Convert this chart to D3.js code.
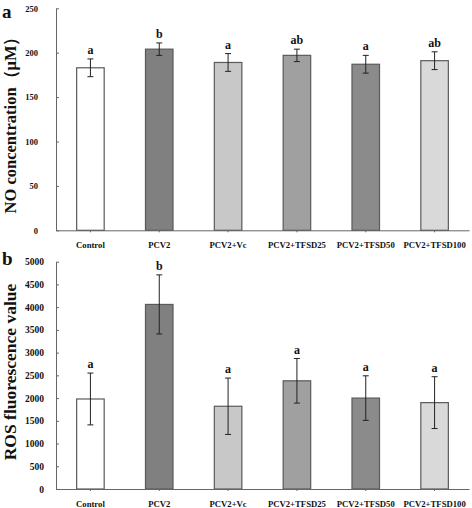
<!DOCTYPE html>
<html><head><meta charset="utf-8">
<script src="https://d3js.org/d3.v7.min.js"></script>
<style>body{margin:0;background:#fff}svg{display:block}text{font-family:"Liberation Serif","Times New Roman",serif;font-weight:bold}</style>
</head><body>
<script>
const categories = ["Control","PCV2","PCV2+Vc","PCV2+TFSD25","PCV2+TFSD50","PCV2+TFSD100"];
const barColors = ["#ffffff","#808080","#c8c8c8","#a0a0a0","#8b8b8b","#d9d9d9"];
const noValues = [183, 204, 189, 197, 187, 191];
const noErrors = [10, 7, 10, 7, 10, 10];
const noLetters = ["a","b","a","ab","a","ab"];
const noTicks = [0,50,100,150,200,250];
const rosValues = [1980, 4060, 1820, 2380, 2000, 1900];
const rosErrors = [570, 650, 620, 490, 490, 570];
const rosLetters = ["a","b","a","a","a","a"];
const rosTicks = [0,500,1000,1500,2000,2500,3000,3500,4000,4500,5000];

const W = 472, H = 508;
const svg = d3.select("body").append("svg").attr("width", W).attr("height", H);

function panel(o){
  const g = svg.append("g");
  const x = d3.scaleBand().domain(categories).range([o.x0, o.x1]).padding(0);
  const y = d3.scaleLinear().domain([0, o.max]).range([o.y0, o.y1]);
  const bw = x.bandwidth()*0.4;
  g.selectAll("rect.bar").data(categories).enter().append("rect")
    .attr("x", d => x(d) + x.bandwidth()/2 - bw/2)
    .attr("y", (d,i) => y(o.values[i]))
    .attr("width", bw)
    .attr("height", (d,i) => o.y0 - y(o.values[i]))
    .attr("fill", (d,i) => barColors[i])
    .attr("stroke", "#5a5a5a").attr("stroke-width", 1.2);
  const eg = g.selectAll("g.err").data(categories).enter().append("g")
    .attr("stroke", "#222").attr("stroke-width", 1);
  eg.append("line").attr("x1", d => x(d)+x.bandwidth()/2).attr("x2", d => x(d)+x.bandwidth()/2)
    .attr("y1", (d,i) => y(o.values[i]+o.errors[i])).attr("y2", (d,i) => y(o.values[i]-o.errors[i]));
  eg.append("line").attr("x1", d => x(d)+x.bandwidth()/2-3).attr("x2", d => x(d)+x.bandwidth()/2+3)
    .attr("y1", (d,i) => y(o.values[i]+o.errors[i])).attr("y2", (d,i) => y(o.values[i]+o.errors[i]));
  eg.append("line").attr("x1", d => x(d)+x.bandwidth()/2-3).attr("x2", d => x(d)+x.bandwidth()/2+3)
    .attr("y1", (d,i) => y(o.values[i]-o.errors[i])).attr("y2", (d,i) => y(o.values[i]-o.errors[i]));
  g.selectAll("text.lt").data(categories).enter().append("text")
    .attr("x", d => x(d)+x.bandwidth()/2)
    .attr("y", (d,i) => y(o.values[i]+o.errors[i]) - 5)
    .attr("text-anchor","middle").attr("font-size", 12).attr("fill","#111")
    .text((d,i) => o.letters[i]);
  const ya = g.append("g").attr("transform", `translate(${o.x0},0)`)
    .call(d3.axisLeft(y).tickValues(o.ticks).tickFormat(d3.format("d")).tickSizeInner(-3).tickSizeOuter(0).tickPadding(o.tickPad));
  ya.select(".domain").attr("stroke","#666");
  ya.selectAll(".tick line").attr("stroke","#666");
  ya.selectAll(".tick text").attr("font-size", o.tickFont).attr("fill","#111")
    .attr("font-family","Liberation Serif").attr("font-weight","bold");
  const xa = g.append("g").attr("transform", `translate(0,${o.y0})`)
    .call(d3.axisBottom(x).tickSizeInner(2).tickSizeOuter(0).tickPadding(10));
  xa.select(".domain").attr("stroke","#666");
  xa.selectAll(".tick line").attr("stroke","#666");
  xa.selectAll(".tick text").attr("font-size", 8.7).attr("fill","#111")
    .attr("font-family","Liberation Serif").attr("font-weight","bold");
  g.append("text").attr("transform", `translate(${o.tx},${o.ty}) rotate(-90)`)
    .attr("text-anchor","middle").attr("font-size", o.tFont).attr("fill","#111").text(o.title);
  g.append("text").attr("x", 2).attr("y", o.ly).attr("font-size", 19).attr("fill","#111").text(o.letter);
}

panel({x0:56, x1:469, y0:230.3, y1:8.3, max:250, values:noValues, errors:noErrors, letters:noLetters,
  ticks:noTicks, tickFont:8.5, tickPad:18, title:"NO concentration（μM）", tx:16, ty:121, tFont:16.5, letter:"a", ly:18});
panel({x0:56, x1:469, y0:489, y1:261.7, max:5000, values:rosValues, errors:rosErrors, letters:rosLetters,
  ticks:rosTicks, tickFont:9.5, tickPad:12, title:"ROS fluorescence value", tx:16, ty:372, tFont:17.5, letter:"b", ly:265});
</script>
</body></html>
